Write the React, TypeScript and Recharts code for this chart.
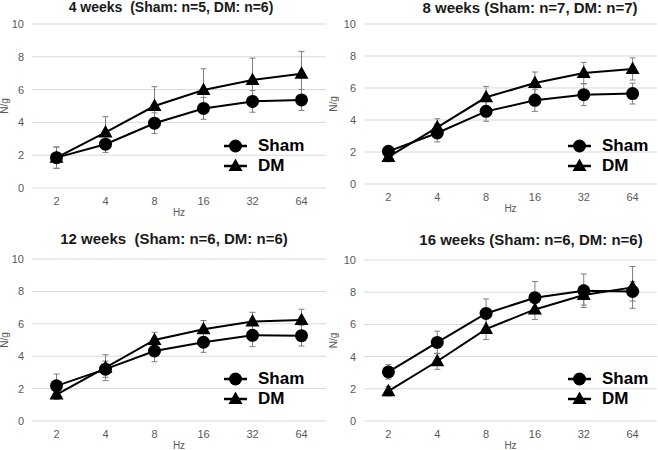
import * as React from "react";
import { LineChart, Line, XAxis, YAxis, CartesianGrid, ErrorBar } from "recharts";

const hz = ["2", "4", "8", "16", "32", "64"];
const yTicks = [0, 2, 4, 6, 8, 10];

const titles = [
  "4 weeks  (Sham: n=5, DM: n=6)",
  "8 weeks (Sham: n=7, DM: n=7)",
  "12 weeks  (Sham: n=6, DM: n=6)",
  "16 weeks (Sham: n=6, DM: n=6)",
];
const seriesNames = ["Sham", "DM"];

const w4Sham = [1.85, 2.67, 3.95, 4.85, 5.28, 5.37];
const w4ShamErr = [0.65, 0.5, 0.63, 0.66, 0.66, 0.64];
const w4Dm = [1.85, 3.39, 5.0, 5.98, 6.59, 6.96];
const w4DmErr = [0.65, 0.96, 1.18, 1.29, 1.33, 1.37];

const w8Sham = [2.04, 3.19, 4.54, 5.23, 5.58, 5.65];
const w8ShamErr = [0.3, 0.56, 0.62, 0.69, 0.68, 0.65];
const w8Dm = [1.69, 3.54, 5.42, 6.31, 6.94, 7.19];
const w8DmErr = [0.3, 0.54, 0.68, 0.69, 0.66, 0.69];

const w12Sham = [2.17, 3.2, 4.32, 4.86, 5.29, 5.27];
const w12ShamErr = [0.73, 0.5, 0.66, 0.62, 0.7, 0.64];
const w12Dm = [1.63, 3.29, 5.0, 5.66, 6.14, 6.24];
const w12DmErr = [0.3, 0.8, 0.48, 0.54, 0.57, 0.66];

const w16Sham = [3.05, 4.88, 6.68, 7.66, 8.09, 8.05];
const w16ShamErr = [0.45, 0.7, 0.9, 1.0, 1.04, 0.6];
const w16Dm = [1.85, 3.71, 5.71, 6.93, 7.82, 8.3];
const w16DmErr = [0.3, 0.5, 0.65, 0.63, 0.62, 1.3];

const FONT = '"Liberation Sans", Arial, sans-serif';

function build(sham: number[], shamErr: number[], dm: number[], dmErr: number[]) {
  return hz.map((h, i) => ({ hz: h, sham: sham[i], shamErr: shamErr[i], dm: dm[i], dmErr: dmErr[i] }));
}

const Circle = (p: any) => <circle key={`c${p.index}`} cx={p.cx} cy={p.cy} r={6.5} fill="#000" />;
const Tri = (p: any) => (
  <path key={`t${p.index}`} d={`M${p.cx},${p.cy - 7.5}L${p.cx + 7},${p.cy + 5}L${p.cx - 7},${p.cy + 5}Z`} fill="#000" />
);

// legend drawn as an overlay so the plot area is not shrunk
function LegendBox({ x, y }: { x: number; y: number }) {
  const row = (kind: "c" | "t", label: string) => (
    <div style={{ display: "flex", alignItems: "center", height: 20 }}>
      <svg width={33} height={20}>
        <line x1={0} y1={10} x2={23} y2={10} stroke="#000" strokeWidth={2.5} />
        {kind === "c" ? (
          <circle cx={11.5} cy={10} r={6.5} fill="#000" />
        ) : (
          <path d="M11.5,2.5L18.5,15L4.5,15Z" fill="#000" />
        )}
      </svg>
      <span style={{ marginLeft: 1, fontFamily: FONT, fontWeight: 700, fontSize: 17, color: "#000", lineHeight: "20px" }}>
        {label}
      </span>
    </div>
  );
  return (
    <div style={{ position: "absolute", left: x, top: y }}>
      {row("c", seriesNames[0])}
      {row("t", seriesNames[1])}
    </div>
  );
}

type PanelProps = {
  title: string;
  data: any[];
  x: number;
  y: number;
  yWidth: number;
  mTop: number;
  mBottom: number;
  mRight: number;
  titleX: number;
  titleY: number;
  titleSize: number;
  legX: number;
  legY: number;
};

function Panel(p: PanelProps) {
  return (
    <div style={{ position: "absolute", left: p.x, top: p.y, width: 329, height: 225 }}>
      <LineChart
        width={329}
        height={225}
        data={p.data}
        margin={{ top: p.mTop, right: p.mRight, left: 0, bottom: p.mBottom }}
      >
        <CartesianGrid vertical={false} stroke="#d9d9d9" />
        <XAxis
          dataKey="hz"
          scale="band"
          height={28}
          axisLine={false}
          tickLine={false}
          tickMargin={3}
          tick={{ fontSize: 11, fill: "#595959", fontFamily: FONT }}
          label={(lp: any) => (
            <text
              x={lp.viewBox.x + lp.viewBox.width / 2}
              y={lp.viewBox.y + 28}
              textAnchor="middle"
              fontSize={10}
              fill="#595959"
              fontFamily={FONT}
            >
              Hz
            </text>
          )}
        />
        <YAxis
          width={p.yWidth}
          domain={[0, 10]}
          ticks={yTicks}
          axisLine={false}
          tickLine={false}
          tick={{ fontSize: 11, fill: "#595959", fontFamily: FONT }}
          label={(lp: any) => (
            <text
              x={8}
              y={lp.viewBox.y + lp.viewBox.height / 2}
              textAnchor="middle"
              fontSize={10}
              fill="#595959"
              fontFamily={FONT}
              transform={`rotate(-90 8 ${lp.viewBox.y + lp.viewBox.height / 2})`}
            >
              N/g
            </text>
          )}
        />
        <Line
          dataKey="sham"
          name={seriesNames[0]}
          stroke="#000"
          strokeWidth={2}
          dot={Circle}
          activeDot={false}
          isAnimationActive={false}
        >
          <ErrorBar dataKey="shamErr" width={3} stroke="#7f7f7f" strokeWidth={1} direction="y" isAnimationActive={false} />
        </Line>
        <Line
          dataKey="dm"
          name={seriesNames[1]}
          stroke="#000"
          strokeWidth={2}
          dot={Tri}
          activeDot={false}
          isAnimationActive={false}
        >
          <ErrorBar dataKey="dmErr" width={3} stroke="#7f7f7f" strokeWidth={1} direction="y" isAnimationActive={false} />
        </Line>
      </LineChart>
      <LegendBox x={p.legX} y={p.legY} />
      <div
        style={{
          position: "absolute",
          left: p.titleX,
          top: p.titleY,
          transform: "translate(-50%, -50%)",
          whiteSpace: "pre",
          fontFamily: FONT,
          fontWeight: 700,
          fontSize: p.titleSize,
          color: "#1a1a1a",
        }}
      >
        {p.title}
      </div>
    </div>
  );
}

export default function App() {
  return (
    <div style={{ position: "absolute", left: 0, top: 0, width: 658, height: 450, background: "#fff", overflow: "hidden" }}>
      <Panel
        title={titles[0]}
        data={build(w4Sham, w4ShamErr, w4Dm, w4DmErr)}
        x={0}
        y={0}
        yWidth={32}
        mTop={24}
        mBottom={9}
        mRight={3}
        titleX={171}
        titleY={7}
        titleSize={14}
        legX={224}
        legY={136}
      />
      <Panel
        title={titles[1]}
        data={build(w8Sham, w8ShamErr, w8Dm, w8DmErr)}
        x={329}
        y={0}
        yWidth={35}
        mTop={24}
        mBottom={13}
        mRight={1}
        titleX={201}
        titleY={7}
        titleSize={15}
        legX={239}
        legY={136}
      />
      <Panel
        title={titles[2]}
        data={build(w12Sham, w12ShamErr, w12Dm, w12DmErr)}
        x={0}
        y={225}
        yWidth={32}
        mTop={34}
        mBottom={1}
        mRight={3}
        titleX={174}
        titleY={13}
        titleSize={15}
        legX={224}
        legY={144}
      />
      <Panel
        title={titles[3]}
        data={build(w16Sham, w16ShamErr, w16Dm, w16DmErr)}
        x={329}
        y={225}
        yWidth={35}
        mTop={35}
        mBottom={1}
        mRight={1}
        titleX={202}
        titleY={14}
        titleSize={15}
        legX={239}
        legY={144}
      />
    </div>
  );
}
